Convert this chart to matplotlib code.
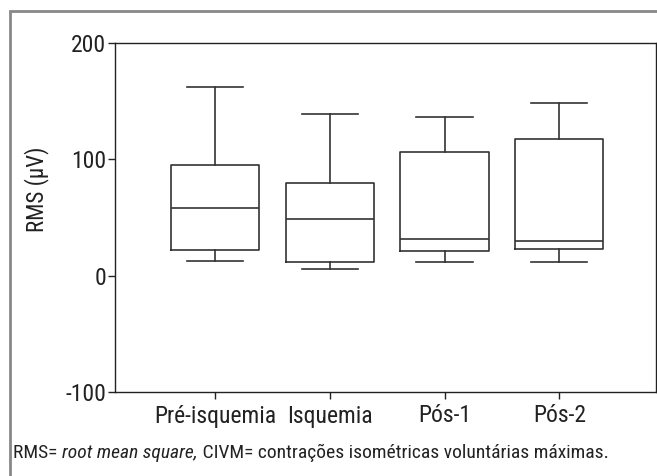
import matplotlib
matplotlib.use("Agg")
import matplotlib.pyplot as plt
from matplotlib.patches import Rectangle

plt.rcParams['font.family'] = ['Roboto Condensed', 'DejaVu Sans']

# values (µV)
groups = ["Pré-isquemia", "Isquemia", "Pós-1", "Pós-2"]
whisker_low = [12.4, 6.0, 11.5, 11.8]
q1 = [22.1, 11.8, 20.7, 22.4]
median = [58.1, 48.9, 31.6, 29.3]
q3 = [94.9, 79.9, 106.4, 117.6]
whisker_high = [161.8, 138.5, 136.5, 148.6]
y_ticks = [-100, 0, 100, 200]

W, H = 657, 476
fig = plt.figure(figsize=(W / 100, H / 100), dpi=100)
ax = fig.add_axes([115 / W, 1 - 392 / H, (656 - 115) / W, (392 - 42.7) / H])

stats = []
for i, name in enumerate(groups):
    stats.append({"label": name, "whislo": whisker_low[i], "q1": q1[i], "med": median[i],
                  "q3": q3[i], "whishi": whisker_high[i], "fliers": []})

line_col = "#333333"
ax.bxp(stats, positions=[1, 2, 3, 4], widths=0.77, capwidths=0.49, showfliers=False,
       boxprops=dict(color=line_col, linewidth=1.2),
       medianprops=dict(color=line_col, linewidth=1.2),
       whiskerprops=dict(color=line_col, linewidth=1.2),
       capprops=dict(color=line_col, linewidth=1.2))

ax.set_xlim(0.128, 4.843)
ax.set_ylim(-100, 200)
ax.set_yticks(y_ticks)
ax.set_yticklabels([str(v) for v in y_ticks])
for s in ax.spines.values():
    s.set_color("#222222")
    s.set_linewidth(1.0)
ax.tick_params(axis='both', direction='out', length=5, width=1, color="#222222",
               labelsize=17, labelcolor="#222222")
ax.tick_params(axis='y', pad=1.5)
ax.tick_params(axis='x', pad=4)
ax.set_ylabel("RMS (µV)", fontsize=16.5, color="#222222")
ax.yaxis.set_label_coords(-0.122, 0.581)

# outer frame and caption
fig.patches.append(Rectangle((10 / W, -0.05), 1.1, 1 - 11 / H + 0.05, transform=fig.transFigure,
                             fill=False, edgecolor="#888888", linewidth=2))
cap_y = 1 - 453 / H
t1 = fig.text(13.3 / W, cap_y, "RMS= ", fontsize=14, color="#222222", va='center', ha='left')
fig.canvas.draw()
r = fig.canvas.get_renderer()
x = t1.get_window_extent(r).x1 / fig.bbox.width
t2 = fig.text(x, cap_y, "root mean square,", fontsize=14, style='italic', color="#222222", va='center', ha='left')
x = t2.get_window_extent(r).x1 / fig.bbox.width
fig.text(x, cap_y, " CIVM= contrações isométricas voluntárias máximas.", fontsize=14,
         color="#222222", va='center', ha='left')

fig.savefig("out.png", dpi=100)
